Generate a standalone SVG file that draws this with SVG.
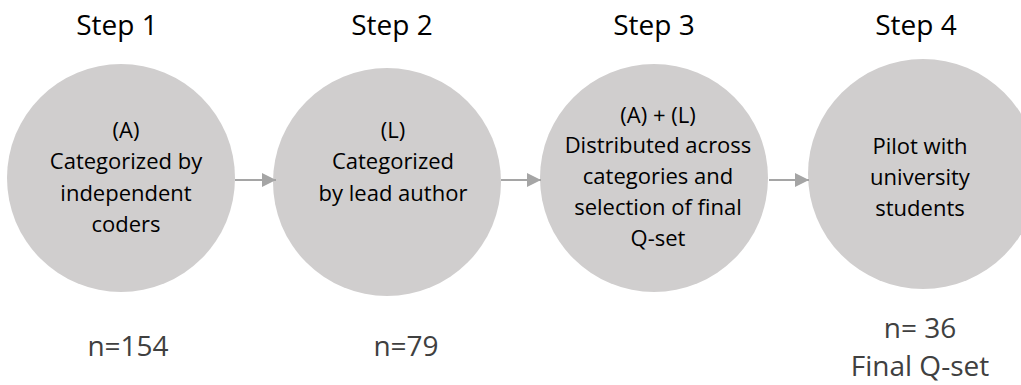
<svg xmlns="http://www.w3.org/2000/svg" width="1021" height="385" viewBox="0 0 1021 385">
<style>
  .node circle { fill: #d0cece; }
  .head { font-family: "Open Sans", "Liberation Sans", sans-serif; font-size: 28px; fill: #000; text-anchor: middle; }
  .body { font-family: "Open Sans", "Liberation Sans", sans-serif; font-size: 22px; fill: #000; text-anchor: middle; }
  .count { font-family: "Open Sans", "Liberation Sans", sans-serif; font-size: 28px; fill: #404040; text-anchor: middle; }
  .conn line { stroke: #a5a5a5; stroke-width: 2; marker-end: url(#arr); }
</style>
<defs>
  <marker id="arr" viewBox="0 0 10 10" refX="10" refY="5" markerWidth="7" markerHeight="7" markerUnits="strokeWidth" orient="auto">
    <path d="M0,0 L10,5 L0,10 z" fill="#a5a5a5"/>
  </marker>
</defs>
<rect width="1021" height="385" fill="#fff"/>

<g id="step1" class="node">
  <circle cx="121" cy="178" r="114"/>
  <text class="head" x="117" y="35">Step 1</text>
  <text class="body" x="126" y="138">(A)</text>
  <text class="body" x="126" y="169">Categorized by</text>
  <text class="body" x="126" y="201">independent</text>
  <text class="body" x="126" y="232">coders</text>
  <text class="count" x="128" y="356">n=154</text>
</g>
<g id="step2" class="node">
  <circle cx="387" cy="182" r="114"/>
  <text class="head" x="392" y="35">Step 2</text>
  <text class="body" x="393" y="138">(L)</text>
  <text class="body" x="393" y="169">Categorized</text>
  <text class="body" x="393" y="201">by lead author</text>
  <text class="count" x="406" y="356">n=79</text>
</g>
<g id="step3" class="node">
  <circle cx="654" cy="178" r="114"/>
  <text class="head" x="654" y="35">Step 3</text>
  <text class="body" x="658" y="123">(A) + (L)</text>
  <text class="body" x="658" y="153">Distributed across</text>
  <text class="body" x="658" y="184">categories and</text>
  <text class="body" x="658" y="215">selection of final</text>
  <text class="body" x="658" y="246">Q-set</text>
</g>
<g id="step4" class="node">
  <circle cx="923" cy="174" r="115"/>
  <text class="head" x="916" y="35">Step 4</text>
  <text class="body" x="920" y="154">Pilot with</text>
  <text class="body" x="920" y="185">university</text>
  <text class="body" x="920" y="216">students</text>
  <text class="count" x="920" y="338">n= 36</text>
  <text class="count" x="920" y="376">Final Q-set</text>
</g>

<g id="connectors" class="conn">
  <line x1="235" y1="180" x2="276" y2="180"/>
  <line x1="501" y1="180" x2="541" y2="180"/>
  <line x1="769" y1="180" x2="809" y2="180"/>
</g>
</svg>
